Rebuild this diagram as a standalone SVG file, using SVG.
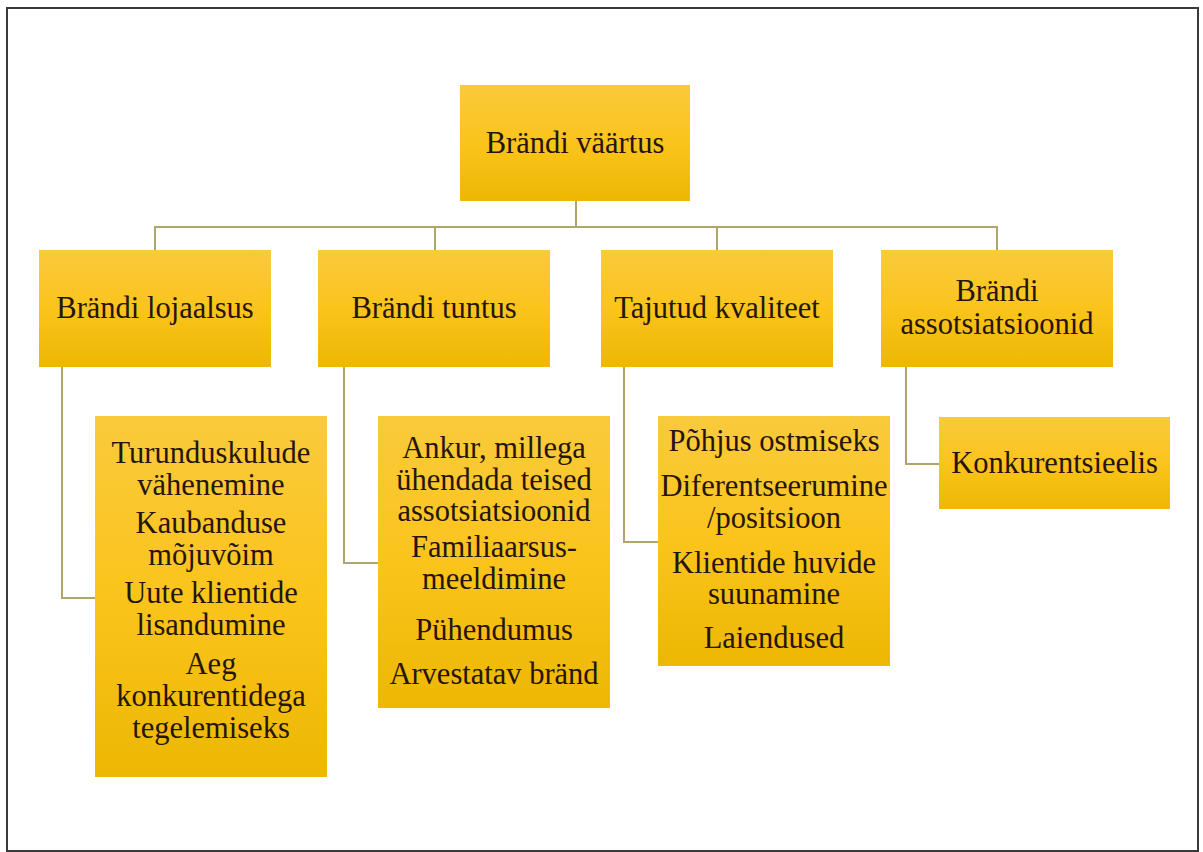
<svg xmlns="http://www.w3.org/2000/svg" width="1203" height="852" viewBox="0 0 1203 852">
  <defs>
    <linearGradient id="gold" x1="0" y1="0" x2="0" y2="1">
      <stop offset="0" stop-color="#F9CA3C"/>
      <stop offset="0.5" stop-color="#FBC41C"/>
      <stop offset="1" stop-color="#EDB703"/>
    </linearGradient>
    <style>
      .box { fill: url(#gold); }
      .t { font-family: "Liberation Serif", "Times New Roman", serif; font-size: 30.5px; fill: #26150A; text-anchor: middle; }
      .c { fill: none; stroke: #B2A46C; stroke-width: 2; }
    </style>
  </defs>
  <rect x="0" y="0" width="1203" height="852" fill="#FFFFFF"/>
  <rect x="7" y="8" width="1191" height="843" fill="none" stroke="#3A3A3A" stroke-width="2"/>

  <g id="connectors">
    <path class="c" d="M576 201 V227"/>
    <path class="c" d="M155 250 V227 H997 V250"/>
    <path class="c" d="M435 227 V250"/>
    <path class="c" d="M717 227 V250"/>
    <path class="c" d="M62 367 V598 H95"/>
    <path class="c" d="M344 367 V563 H378"/>
    <path class="c" d="M624 367 V542 H658"/>
    <path class="c" d="M906 367 V464 H939"/>
  </g>

  <g id="node-root">
    <rect class="box" x="460" y="85" width="230" height="116"/>
    <text class="t" x="575" y="153">Brändi väärtus</text>
  </g>

  <g id="node-lojaalsus">
    <rect class="box" x="39" y="250" width="232" height="117"/>
    <text class="t" x="155" y="318">Brändi lojaalsus</text>
  </g>
  <g id="node-tuntus">
    <rect class="box" x="318" y="250" width="232" height="117"/>
    <text class="t" x="434" y="318">Brändi tuntus</text>
  </g>
  <g id="node-kvaliteet">
    <rect class="box" x="601" y="250" width="232" height="117"/>
    <text class="t" x="717" y="318">Tajutud kvaliteet</text>
  </g>
  <g id="node-assotsiatsioonid">
    <rect class="box" x="881" y="250" width="232" height="117"/>
    <text class="t" x="997" y="301">Brändi</text>
    <text class="t" x="997" y="334">assotsiatsioonid</text>
  </g>

  <g id="node-lojaalsus-items">
    <rect class="box" x="95" y="416" width="232" height="361"/>
    <text class="t" x="211" y="463">Turunduskulude</text>
    <text class="t" x="211" y="495">vähenemine</text>
    <text class="t" x="211" y="533">Kaubanduse</text>
    <text class="t" x="211" y="565">mõjuvõim</text>
    <text class="t" x="211" y="603">Uute klientide</text>
    <text class="t" x="211" y="635">lisandumine</text>
    <text class="t" x="211" y="674">Aeg</text>
    <text class="t" x="211" y="706">konkurentidega</text>
    <text class="t" x="211" y="738">tegelemiseks</text>
  </g>

  <g id="node-tuntus-items">
    <rect class="box" x="378" y="416" width="232" height="292"/>
    <text class="t" x="494" y="458">Ankur, millega</text>
    <text class="t" x="494" y="490">ühendada teised</text>
    <text class="t" x="494" y="521">assotsiatsioonid</text>
    <text class="t" x="494" y="557">Familiaarsus-</text>
    <text class="t" x="494" y="589">meeldimine</text>
    <text class="t" x="494" y="640">Pühendumus</text>
    <text class="t" x="494" y="684">Arvestatav bränd</text>
  </g>

  <g id="node-kvaliteet-items">
    <rect class="box" x="658" y="416" width="232" height="250"/>
    <text class="t" x="774" y="451">Põhjus ostmiseks</text>
    <text class="t" x="774" y="496">Diferentseerumine</text>
    <text class="t" x="774" y="528">/positsioon</text>
    <text class="t" x="774" y="573">Klientide huvide</text>
    <text class="t" x="774" y="604">suunamine</text>
    <text class="t" x="774" y="648">Laiendused</text>
  </g>

  <g id="node-assotsiatsioonid-items">
    <rect class="box" x="939" y="417" width="231" height="92"/>
    <text class="t" x="1054.5" y="473">Konkurentsieelis</text>
  </g>
</svg>
